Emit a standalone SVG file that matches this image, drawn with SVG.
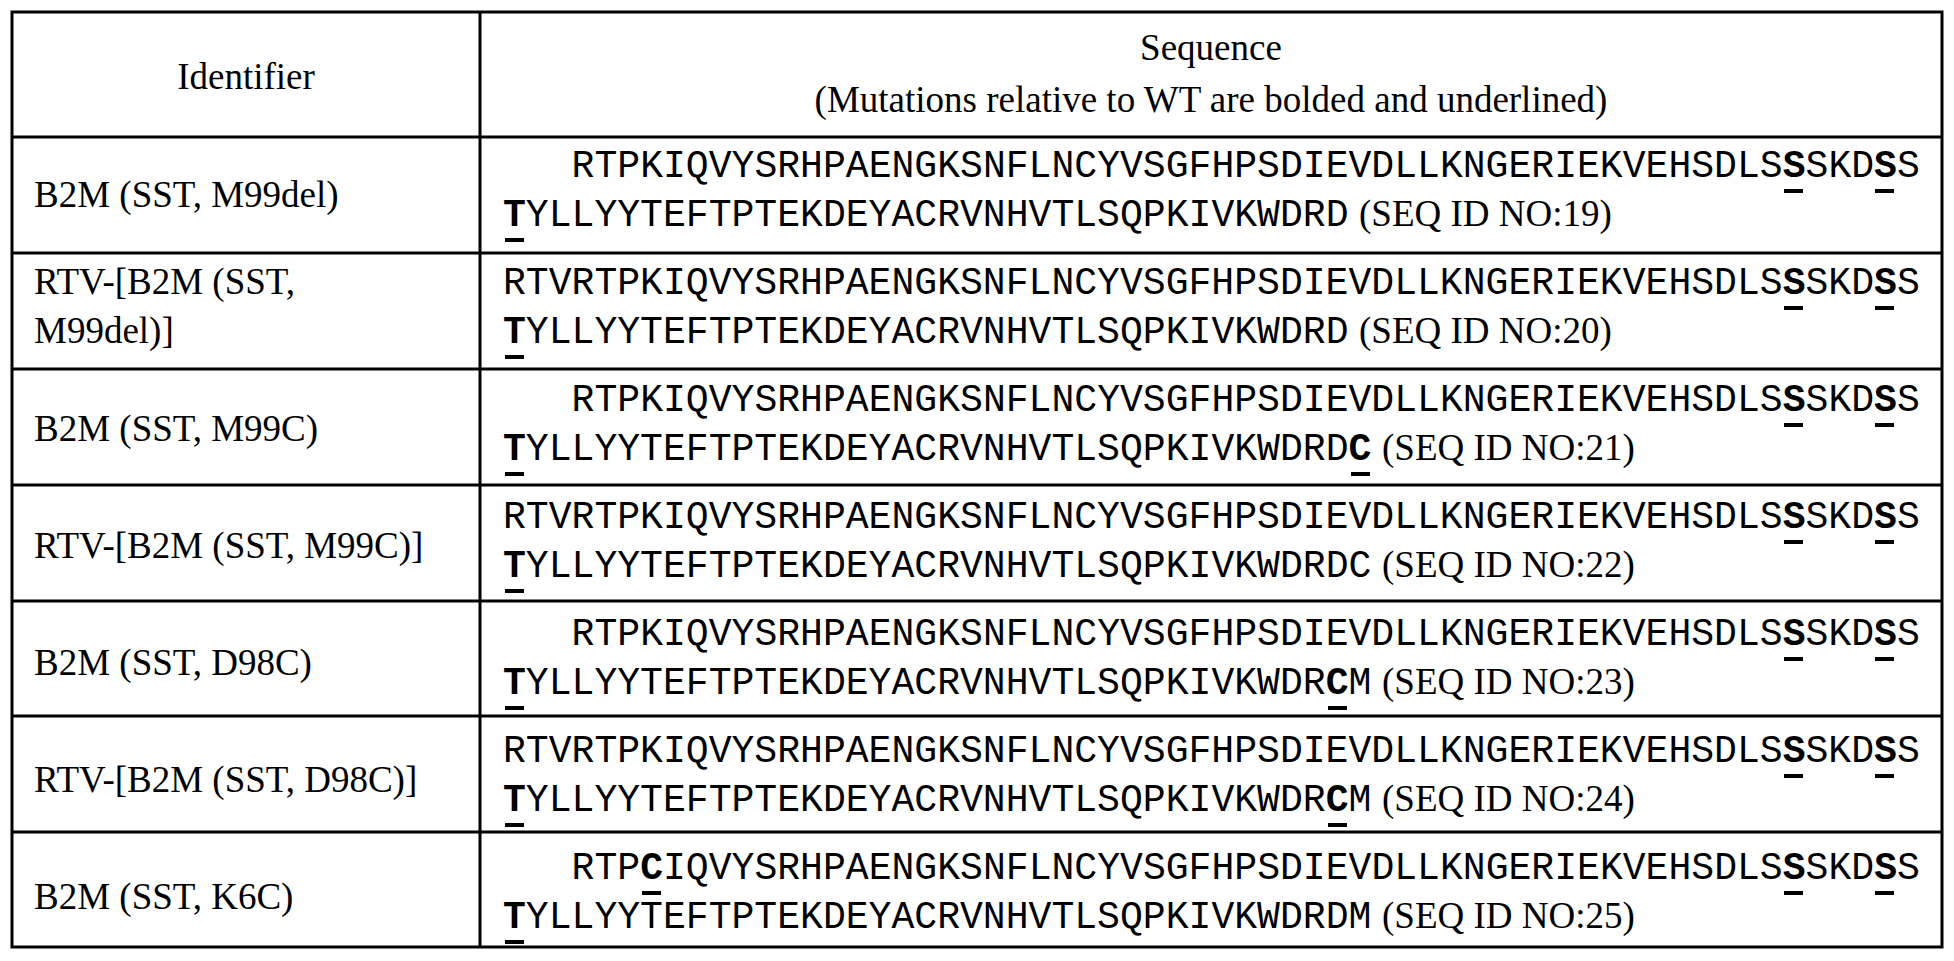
<svg xmlns="http://www.w3.org/2000/svg" width="1954" height="961" viewBox="0 0 1954 961">
<style>
.t{font-family:"Liberation Serif","Times New Roman",serif;font-size:37px;fill:#000}
.m{font-family:"Liberation Mono","Courier New",monospace;font-size:38.08px;fill:#000}
.b{font-weight:bold}
.g{stroke:#000;stroke-width:3;fill:none}
.u{stroke:#000;stroke-width:4}
</style>
<rect width="1954" height="961" fill="#fff"/>
<g id="grid" class="g">
<rect x="12" y="12" width="1930" height="935"/>
<line x1="480" y1="12" x2="480" y2="947"/>
<line x1="12" y1="137" x2="1942" y2="137"/>
<line x1="12" y1="253" x2="1942" y2="253"/>
<line x1="12" y1="369" x2="1942" y2="369"/>
<line x1="12" y1="485" x2="1942" y2="485"/>
<line x1="12" y1="601" x2="1942" y2="601"/>
<line x1="12" y1="716" x2="1942" y2="716"/>
<line x1="12" y1="832" x2="1942" y2="832"/>
</g>
<g id="header">
<text class="t" x="246" y="89" text-anchor="middle">Identifier</text>
<text class="t" x="1211" y="60" text-anchor="middle">Sequence</text>
<text class="t" x="1211" y="112" text-anchor="middle">(Mutations relative to WT are bolded and underlined)</text>
</g>
<g id="row1">
<text class="t" x="34" y="207">B2M (SST, M99del)</text>
<text class="m" x="571.6" y="177">RTPKIQVYSRHPAENGKSNFLNCYVSGFHPSDIEVDLLKNGERIEKVEHSDLS<tspan class="b">S</tspan>SKD<tspan class="b">S</tspan>S</text>
<text class="m" x="503" y="226"><tspan class="b">T</tspan>YLLYYTEFTPTEKDEYACRVNHVTLSQPKIVKWDRD</text>
<text class="t" x="1359" y="226">(SEQ ID NO:19)</text>
</g>
<g id="row2">
<text class="t" x="34" y="294">RTV-[B2M (SST,</text>
<text class="t" x="34" y="343">M99del)]</text>
<text class="m" x="503" y="294">RTVRTPKIQVYSRHPAENGKSNFLNCYVSGFHPSDIEVDLLKNGERIEKVEHSDLS<tspan class="b">S</tspan>SKD<tspan class="b">S</tspan>S</text>
<text class="m" x="503" y="343"><tspan class="b">T</tspan>YLLYYTEFTPTEKDEYACRVNHVTLSQPKIVKWDRD</text>
<text class="t" x="1359" y="343">(SEQ ID NO:20)</text>
</g>
<g id="row3">
<text class="t" x="34" y="441">B2M (SST, M99C)</text>
<text class="m" x="571.6" y="411">RTPKIQVYSRHPAENGKSNFLNCYVSGFHPSDIEVDLLKNGERIEKVEHSDLS<tspan class="b">S</tspan>SKD<tspan class="b">S</tspan>S</text>
<text class="m" x="503" y="460"><tspan class="b">T</tspan>YLLYYTEFTPTEKDEYACRVNHVTLSQPKIVKWDRD<tspan class="b">C</tspan></text>
<text class="t" x="1382" y="460">(SEQ ID NO:21)</text>
</g>
<g id="row4">
<text class="t" x="34" y="558">RTV-[B2M (SST, M99C)]</text>
<text class="m" x="503" y="528">RTVRTPKIQVYSRHPAENGKSNFLNCYVSGFHPSDIEVDLLKNGERIEKVEHSDLS<tspan class="b">S</tspan>SKD<tspan class="b">S</tspan>S</text>
<text class="m" x="503" y="577"><tspan class="b">T</tspan>YLLYYTEFTPTEKDEYACRVNHVTLSQPKIVKWDRDC</text>
<text class="t" x="1382" y="577">(SEQ ID NO:22)</text>
</g>
<g id="row5">
<text class="t" x="34" y="675">B2M (SST, D98C)</text>
<text class="m" x="571.6" y="645">RTPKIQVYSRHPAENGKSNFLNCYVSGFHPSDIEVDLLKNGERIEKVEHSDLS<tspan class="b">S</tspan>SKD<tspan class="b">S</tspan>S</text>
<text class="m" x="503" y="694"><tspan class="b">T</tspan>YLLYYTEFTPTEKDEYACRVNHVTLSQPKIVKWDR<tspan class="b">C</tspan>M</text>
<text class="t" x="1382" y="694">(SEQ ID NO:23)</text>
</g>
<g id="row6">
<text class="t" x="34" y="792">RTV-[B2M (SST, D98C)]</text>
<text class="m" x="503" y="762">RTVRTPKIQVYSRHPAENGKSNFLNCYVSGFHPSDIEVDLLKNGERIEKVEHSDLS<tspan class="b">S</tspan>SKD<tspan class="b">S</tspan>S</text>
<text class="m" x="503" y="811"><tspan class="b">T</tspan>YLLYYTEFTPTEKDEYACRVNHVTLSQPKIVKWDR<tspan class="b">C</tspan>M</text>
<text class="t" x="1382" y="811">(SEQ ID NO:24)</text>
</g>
<g id="row7">
<text class="t" x="34" y="909">B2M (SST, K6C)</text>
<text class="m" x="571.6" y="879">RTP<tspan class="b">C</tspan>IQVYSRHPAENGKSNFLNCYVSGFHPSDIEVDLLKNGERIEKVEHSDLS<tspan class="b">S</tspan>SKD<tspan class="b">S</tspan>S</text>
<text class="m" x="503" y="928"><tspan class="b">T</tspan>YLLYYTEFTPTEKDEYACRVNHVTLSQPKIVKWDRDM</text>
<text class="t" x="1382" y="928">(SEQ ID NO:25)</text>
</g>
<g id="underlines" class="u">
<path d="M1784 191h19M1875 191h19M505 240h19
M1784 308h19M1875 308h19M505 357h19
M1784 425h19M1875 425h19M505 474h19M1351 474h19
M1784 542h19M1875 542h19M505 591h19
M1784 659h19M1875 659h19M505 708h19M1328 708h19
M1784 776h19M1875 776h19M505 825h19M1328 825h19
M642 893h19M1784 893h19M1875 893h19M505 942h19"/>
</g>
</svg>
